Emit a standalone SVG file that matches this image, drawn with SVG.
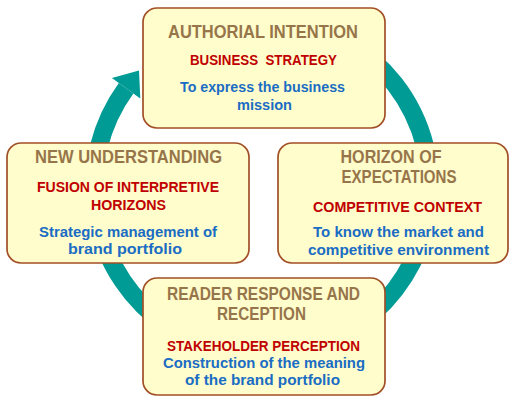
<svg xmlns="http://www.w3.org/2000/svg" width="510" height="397" viewBox="0 0 510 397">
<style>
.box{fill:#FFFDCB;stroke:#A24F27;stroke-width:1.7}
text{font-family:"Liberation Sans",Arial,sans-serif;font-weight:bold;text-anchor:middle}
.t{font-size:17.5px;fill:#97754A}
.r{font-size:14.5px;fill:#C00000}
.b{font-size:15px;fill:#1A6CC4}
.ring{fill:none;stroke:#009B95;stroke-width:18}
</style>
<rect width="510" height="397" fill="#FFFFFF"/>
<g id="connectors">
<path class="ring" d="M346,41.5 A168,168 0 1 1 126.1,88.2"/>
<polygon points="111.9,77.9 139,70.5 140.3,98.5" fill="#009B95"/>
</g>
<g id="node-authorial">
<rect class="box" x="143" y="8" width="242" height="120" rx="14"/>
<text class="t" x="263" y="38" textLength="190" lengthAdjust="spacingAndGlyphs">AUTHORIAL INTENTION</text>
<text class="r" x="263.5" y="65" textLength="147" lengthAdjust="spacingAndGlyphs" xml:space="preserve">BUSINESS  STRATEGY</text>
<text class="b" x="262.5" y="92" textLength="165" lengthAdjust="spacingAndGlyphs">To express the business</text>
<text class="b" x="264.5" y="110" textLength="55" lengthAdjust="spacingAndGlyphs">mission</text>
</g>
<g id="node-new-understanding">
<rect class="box" x="7" y="143" width="242" height="120" rx="14"/>
<text class="t" x="128.5" y="163" textLength="187" lengthAdjust="spacingAndGlyphs">NEW UNDERSTANDING</text>
<text class="r" x="128" y="192" textLength="182" lengthAdjust="spacingAndGlyphs">FUSION OF INTERPRETIVE</text>
<text class="r" x="128.5" y="210" textLength="75" lengthAdjust="spacingAndGlyphs">HORIZONS</text>
<text class="b" x="128" y="237" textLength="178" lengthAdjust="spacingAndGlyphs">Strategic management of</text>
<text class="b" x="125" y="254" textLength="114" lengthAdjust="spacingAndGlyphs">brand portfolio</text>
</g>
<g id="node-horizon">
<rect class="box" x="278" y="143" width="230" height="120" rx="14"/>
<text class="t" x="391" y="163" textLength="101" lengthAdjust="spacingAndGlyphs">HORIZON OF</text>
<text class="t" x="399" y="183" textLength="115" lengthAdjust="spacingAndGlyphs">EXPECTATIONS</text>
<text class="r" x="397.5" y="212" textLength="169" lengthAdjust="spacingAndGlyphs">COMPETITIVE CONTEXT</text>
<text class="b" x="398.5" y="237" textLength="171" lengthAdjust="spacingAndGlyphs">To know the market and</text>
<text class="b" x="398.5" y="255" textLength="181" lengthAdjust="spacingAndGlyphs">competitive environment</text>
</g>
<g id="node-reader">
<rect class="box" x="143" y="278" width="242" height="117" rx="14"/>
<text class="t" x="263.5" y="300" textLength="193" lengthAdjust="spacingAndGlyphs">READER RESPONSE AND</text>
<text class="t" x="261.5" y="320" textLength="89" lengthAdjust="spacingAndGlyphs">RECEPTION</text>
<text class="r" x="263.5" y="351" textLength="193" lengthAdjust="spacingAndGlyphs">STAKEHOLDER PERCEPTION</text>
<text class="b" x="264" y="368" textLength="202" lengthAdjust="spacingAndGlyphs">Construction of the meaning</text>
<text class="b" x="262.5" y="385" textLength="155" lengthAdjust="spacingAndGlyphs">of the brand portfolio</text>
</g>
</svg>
